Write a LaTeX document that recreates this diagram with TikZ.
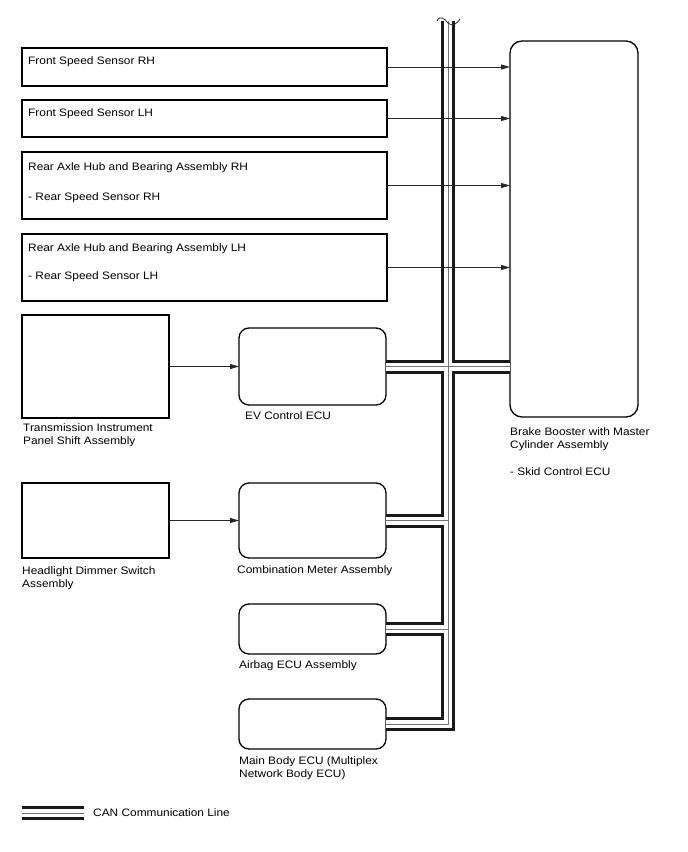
\documentclass[tikz,border=0pt]{standalone}
\usepackage{fontspec}
\setmainfont{Liberation Sans}[FakeStretch=1.1]
\usetikzlibrary{positioning, arrows.meta}

\begin{document}
\begin{tikzpicture}[
    x=1pt, y=-1pt,
    font=\fontsize{10.8}{13.5}\selectfont,
    sbox/.style={draw, line width=1.2pt, minimum width=365pt, inner sep=0pt, outer sep=0pt},
    wbox/.style={draw, line width=1.2pt, minimum width=147pt, inner sep=0pt, outer sep=0pt},
    ebox/.style={draw, line width=1.3pt, rounded corners=10pt, minimum width=147pt,
                 inner sep=0pt, outer sep=0pt},
    lbl/.style={inner sep=0pt, align=left, anchor=north west},
    arr/.style={-{Triangle[length=9pt, width=5pt]}, line width=0.8pt, black!85},
    busout/.style={line width=14pt, black!90, line cap=butt, line join=miter},
    busin/.style={line width=8pt, white, line cap=butt, line join=miter},
    busmid/.style={line width=0.7pt, black!55, line cap=butt, line join=miter}]

  \useasboundingbox (0,0) rectangle (688,852);

  % === Left column: sensors and switches ===
  \node[sbox, minimum height=38pt, anchor=north west] (frsrh) at (22,48) {};
  \node[sbox, minimum height=37pt, below=14pt of frsrh] (frslh) {};
  \node[sbox, minimum height=67pt, below=15pt of frslh] (rrh) {};
  \node[sbox, minimum height=67pt, below=15pt of rrh] (rlh) {};
  \node[wbox, minimum height=103pt, below right=14pt and 0pt of rlh.south west] (trans) {};
  \node[wbox, minimum height=75pt, below=65pt of trans] (hdsw) {};

  % texts in the sensor boxes
  \node[lbl, below right=8pt and 6pt of frsrh.north west] (frsrhtxt) {Front Speed Sensor RH};
  \node[lbl, below right=8pt and 6pt of frslh.north west] (frslhtxt) {Front Speed Sensor LH};
  \node[lbl, below right=10pt and 6pt of rrh.north west] (rrhtxt)
    {Rear Axle Hub and Bearing Assembly RH\\[17pt]- Rear Speed Sensor RH};
  \node[lbl, below right=9pt and 6pt of rlh.north west] (rlhtxt)
    {Rear Axle Hub and Bearing Assembly LH\\[15pt]- Rear Speed Sensor LH};
  \node[lbl, below right=5pt and 1pt of trans.south west] (translbl)
    {Transmission Instrument\\Panel Shift Assembly};
  \node[lbl, below right=8pt and 0pt of hdsw.south west] (hdswlbl)
    {Headlight Dimmer Switch\\Assembly};

  % === Middle column: ECUs ===
  \node[ebox, minimum height=77pt, right=70pt of trans] (evecu) {};
  \node[ebox, minimum height=75pt, right=70pt of hdsw] (cmbm) {};
  \node[ebox, minimum height=50pt, below=46pt of cmbm] (abecu) {};
  \node[ebox, minimum height=50pt, below=45pt of abecu] (mbecu) {};

  \node[lbl, below right=6pt and 6pt of evecu.south west] (evlbl) {EV Control ECU};
  \node[lbl, below right=7pt and -2pt of cmbm.south west] (cmblbl) {Combination Meter Assembly};
  \node[lbl, below right=6pt and 0pt of abecu.south west] (ablbl) {Airbag ECU Assembly};
  \node[lbl, below right=7pt and 0pt of mbecu.south west] (mblbl)
    {Main Body ECU (Multiplex\\Network Body ECU)};

  % === Right: brake booster ===
  \node[ebox, minimum width=128pt, minimum height=376pt, rounded corners=12pt,
        anchor=north west] (brake) at (510,41) {};
  \node[lbl, below right=10pt and 0pt of brake.south west] (brakelbl)
    {Brake Booster with Master\\Cylinder Assembly\\[13pt]- Skid Control ECU};

  % === CAN bus ===
  \coordinate (bustop) at (448,21);
  \foreach \lay in {busout, busin, busmid} {
    \draw[\lay] (bustop) |- (mbecu.east);
    \draw[\lay] (evecu.east) -- (evecu.east -| brake.west);
    \draw[\lay] (cmbm.east) -- (cmbm.east -| bustop);
    \draw[\lay] (abecu.east) -- (abecu.east -| bustop);
  }
  % break mark on top of the bus
  \draw[line width=0.8pt, black!85]
    ([xshift=-11pt]bustop) .. controls ([shift={(-8,-6)}]bustop) and ([shift={(-4,-3)}]bustop) ..
    ([shift={(0,2)}]bustop) .. controls ([shift={(4,6)}]bustop) and ([shift={(9,3)}]bustop) ..
    ([shift={(12,-2)}]bustop);

  % === Arrows ===
  \draw[arr] (frsrh) -- (frsrh -| brake.west);
  \draw[arr] (frslh) -- (frslh -| brake.west);
  \draw[arr] (rrh) -- (rrh -| brake.west);
  \draw[arr] (rlh) -- (rlh -| brake.west);
  \draw[arr] (trans) -- (evecu);
  \draw[arr] (hdsw) -- (hdsw -| cmbm.west);

  % === Legend ===
  \coordinate (lega) at (22,813);
  \coordinate (legb) at (84,813);
  \foreach \lay in {busout, busin, busmid}
    \draw[\lay] (lega) -- (legb);
  \node[anchor=west, inner sep=0pt] (legtxt) at (93,813) {CAN Communication Line};

\end{tikzpicture}
\end{document}
